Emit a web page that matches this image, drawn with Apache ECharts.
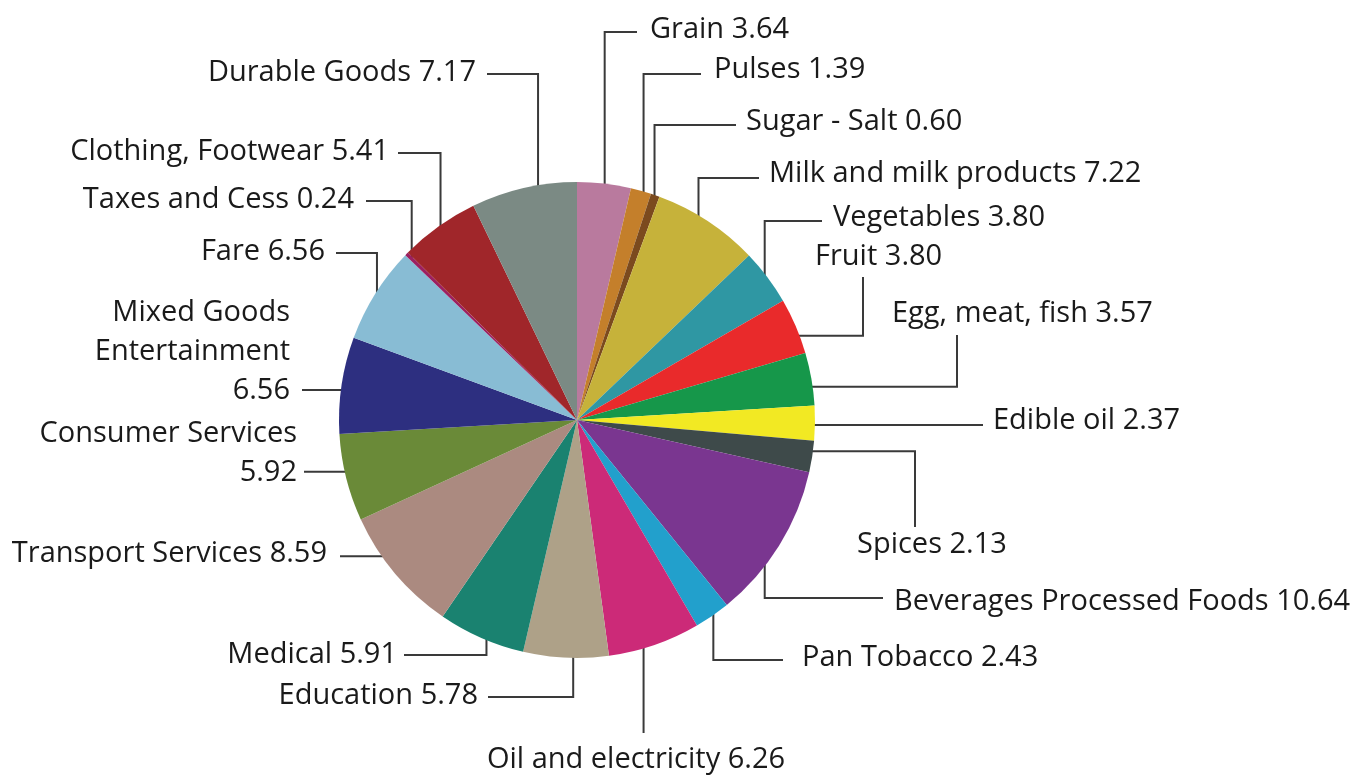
<!DOCTYPE html>
<html>
<head>
<meta charset="utf-8">
<script src="https://cdn.jsdelivr.net/npm/echarts@6/dist/echarts.min.js"></script>
<style>
  html, body { margin: 0; padding: 0; background: #ffffff; }
  #chart { width: 1356px; height: 776px; }
</style>
</head>
<body>
<div id="chart"></div>
<script>
// ---- data ----
const categories = [
  'Grain', 'Pulses', 'Sugar - Salt', 'Milk and milk products', 'Vegetables', 'Fruit',
  'Egg, meat, fish', 'Edible oil', 'Spices', 'Beverages Processed Foods', 'Pan Tobacco',
  'Oil and electricity', 'Education', 'Medical', 'Transport Services', 'Consumer Services',
  'Mixed Goods Entertainment', 'Fare', 'Taxes and Cess', 'Clothing, Footwear', 'Durable Goods'
];
const values = [
  3.64, 1.39, 0.60, 7.22, 3.80, 3.80,
  3.57, 2.37, 2.13, 10.64, 2.43,
  6.26, 5.78, 5.91, 8.59, 5.92,
  6.56, 6.56, 0.24, 5.41, 7.17
];

// ---- styles ----
const colors = [
  '#b97a9e', '#c47f2b', '#7b4a1e', '#c6b23a', '#2f97a3', '#e92a2b',
  '#16974a', '#f2e923', '#3e4a4a', '#7a3690', '#22a0cc',
  '#cc2a78', '#aea188', '#1a8270', '#ab8a80', '#6a8a38',
  '#2d2f80', '#88bcd4', '#9c2060', '#a0262a', '#7b8a84'
];
const CX = 577, CY = 420, R = 238;
const LH = 39;

// label layout: text anchor (x,y,align), leader anchor inside slice (a = fraction of slice angle, r = fraction of radius),
// path kind and elbow/end positions
const labelCfg = [
  { x: 650, y: 30,  align: 'left',  a: 0.60, r: 0.85, kind: 'vh', ly: 32,  ex: 637 },
  { x: 714, y: 70,  align: 'left',  a: 0.84, r: 0.94, kind: 'vh', ly: 74,  ex: 701 },
  { x: 746, y: 122, align: 'left',  a: 0.70, r: 0.97, kind: 'vh', ly: 125, ex: 736 },
  { x: 769, y: 174, align: 'left',  a: 0.65, r: 0.845, kind: 'vh', ly: 178, ex: 759 },
  { x: 833, y: 218, align: 'left',  a: 0.72, r: 0.95, kind: 'vh', ly: 221, ex: 822 },
  { x: 815, y: 257, align: 'left',  a: 0.55, r: 0.925, kind: 'hv', lx: 863, ey: 277 },
  { x: 892, y: 314, align: 'left',  a: 0.60, r: 0.93, kind: 'hv', lx: 957, ey: 335 },
  { x: 993, y: 421, align: 'left',  a: 0.56, r: 0.96, kind: 'h', ex: 983 },
  { x: 857, y: 545, align: 'left',  a: 0.34, r: 0.99, kind: 'hv', lx: 915, ey: 527 },
  { x: 894, y: 602, align: 'left',  a: 0.45, r: 0.91, kind: 'vh', ly: 598, ex: 883 },
  { x: 802, y: 658, align: 'left',  a: 0.22, r: 0.95, kind: 'vh', ly: 660, ex: 783 },
  { x: 636, y: 760, align: 'center', a: 0.53, r: 0.89, kind: 'v', ey: 733 },
  { x: 478, y: 696, align: 'right', a: 0.42, r: 0.90, kind: 'vh', ly: 697, ex: 488 },
  { x: 397, y: 655, align: 'right', a: 0.56, r: 0.90, kind: 'vh', ly: 655, ex: 404 },
  { x: 327, y: 554, align: 'right', a: 0.57, r: 0.93, kind: 'h', ex: 340 },
  { x: 297, y: 453, align: 'right', a: 0.51, r: 0.91, kind: 'h', ex: 304, breakWords: [], valueBreak: true },
  { x: 290, y: 352, align: 'right', a: 0.48, r: 0.91, kind: 'h', ex: 302, breakWords: [2], valueBreak: true },
  { x: 325, y: 252, align: 'right', a: 0.32, r: 0.95, kind: 'vh', ly: 253, ex: 336 },
  { x: 354, y: 200, align: 'right', a: 0.50, r: 0.97, kind: 'vh', ly: 201, ex: 366 },
  { x: 389, y: 152, align: 'right', a: 0.32, r: 0.91, kind: 'vh', ly: 153, ex: 398 },
  { x: 476, y: 73,  align: 'right', a: 0.57, r: 0.85, kind: 'vh', ly: 74,  ex: 487 }
];

// slice angles (clockwise from 12 o'clock), same as the pie's own layout
const total = values.reduce((s, v) => s + v, 0);
const startDeg = [];
let acc = 0;
values.forEach(v => { startDeg.push(acc / total * 360); acc += v; });

function labelText(i) {
  const cfg = labelCfg[i];
  let name = categories[i];
  if (cfg.breakWords && cfg.breakWords.length) {
    const w = name.split(' ');
    name = w.map((s, k) => s + (cfg.breakWords.indexOf(k + 1) >= 0 ? '\n' : ' ')).join('').trim();
  }
  return name + (cfg.valueBreak ? '\n' : ' ') + values[i].toFixed(2);
}

function anchor(i) {
  const cfg = labelCfg[i];
  const span = values[i] / total * 360;
  const th = (startDeg[i] + cfg.a * span) * Math.PI / 180;
  const rr = R * cfg.r;
  return [CX + rr * Math.sin(th), CY - rr * Math.cos(th)];
}

const chart = echarts.init(document.getElementById('chart'), null, { renderer: 'canvas' });
chart.setOption({
  animation: false,
  backgroundColor: '#ffffff',
  series: [{
    type: 'pie',
    center: [CX, CY],
    radius: R,
    startAngle: 90,
    clockwise: true,
    avoidLabelOverlap: false,
    silent: true,
    data: categories.map((c, i) => ({ name: c, value: values[i], itemStyle: { color: colors[i] } })),
    itemStyle: { borderWidth: 0 },
    label: {
      show: true,
      position: 'outside',
      formatter: p => labelText(p.dataIndex),
      fontFamily: '"Open Sans", sans-serif',
      fontSize: 29,
      lineHeight: LH,
      color: '#1a1a1a'
    },
    labelLine: {
      show: true,
      length: 10,
      length2: 10,
      smooth: false,
      lineStyle: { color: '#3a3a3a', width: 2 }
    },
    labelLayout: function (params) {
      const i = params.dataIndex;
      const cfg = labelCfg[i];
      const A = anchor(i);
      let pts;
      if (cfg.kind === 'vh') pts = [A, [A[0], cfg.ly], [cfg.ex, cfg.ly]];
      else if (cfg.kind === 'hv') pts = [A, [cfg.lx, A[1]], [cfg.lx, cfg.ey]];
      else if (cfg.kind === 'h') pts = [A, [(A[0] + cfg.ex) / 2, A[1]], [cfg.ex, A[1]]];
      else pts = [A, [A[0], (A[1] + cfg.ey) / 2], [A[0], cfg.ey]];
      return {
        x: cfg.x,
        y: cfg.y,
        align: cfg.align,
        verticalAlign: 'middle',
        labelLinePoints: pts
      };
    }
  }]
});
</script>
</body>
</html>
